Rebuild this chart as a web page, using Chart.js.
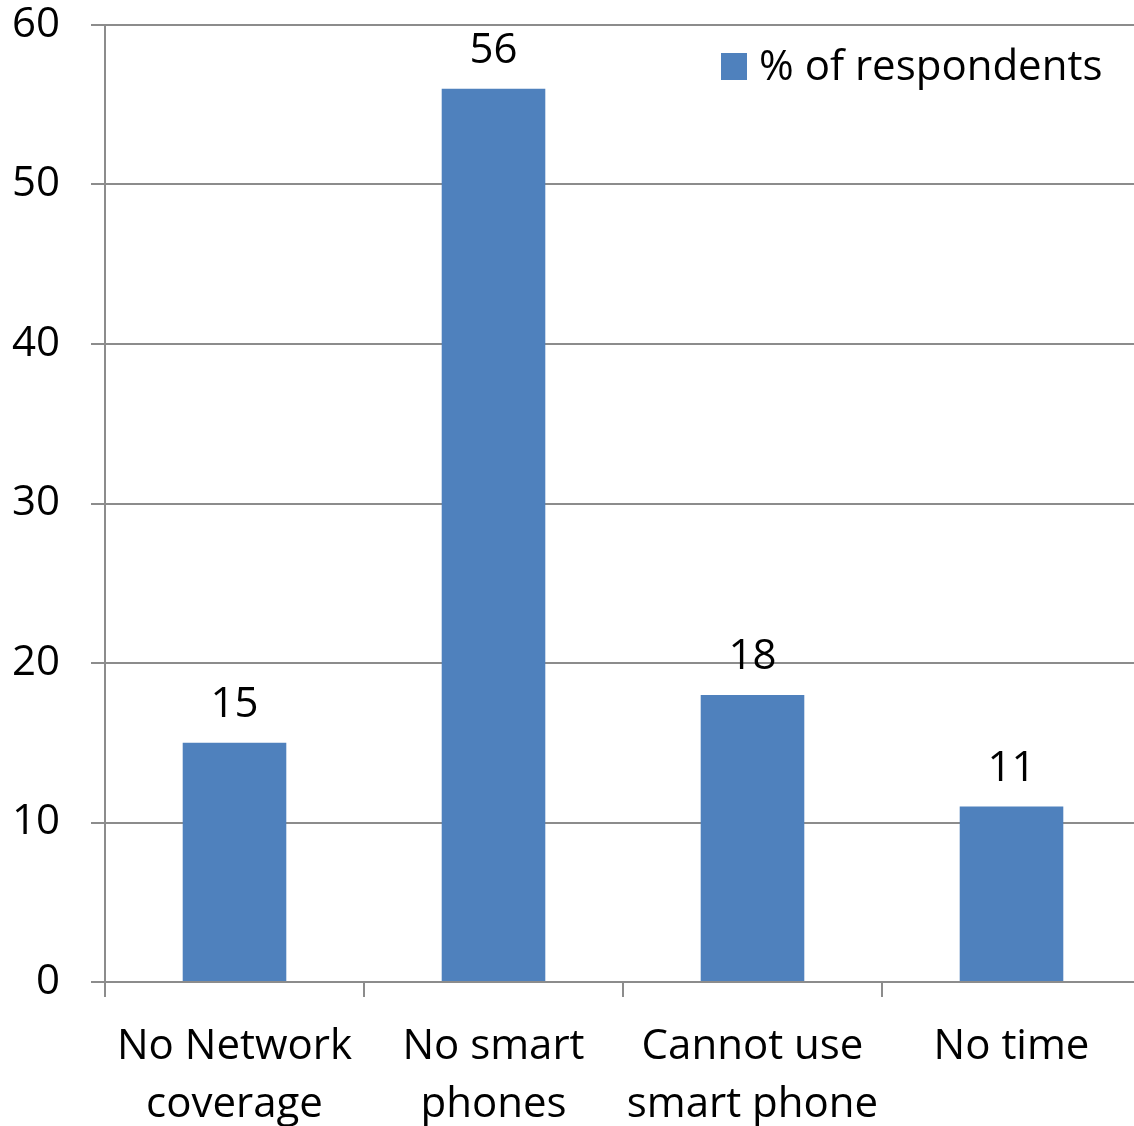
<!DOCTYPE html>
<html>
<head>
<meta charset="utf-8">
<script src="https://cdn.jsdelivr.net/npm/chart.js@4"></script>
<style>
  html, body { margin: 0; padding: 0; background: #fff; overflow: hidden; }
  canvas { display: block; }
</style>
</head>
<body>
<canvas id="c" width="1142" height="1126"></canvas>
<script>
// Reasons respondents gave, with share of respondents (%)
const categories = [
  ["No Network", "coverage"],
  ["No smart", "phones"],
  ["Cannot use", "smart phone"],
  ["No time"]
];
const seriesLabel = "% of respondents";
const respondents = [15, 56, 18, 11];
const yTicks = [0, 10, 20, 30, 40, 50, 60];

const FONT = "'Open Sans', 'DejaVu Sans', sans-serif";
const FONT_SIZE = 42;
const BAR = "#4F81BD";
const GRID = "#8c8c8c";

// value labels above each bar
const valueLabels = {
  id: "valueLabels",
  afterDatasetsDraw(chart) {
    const ctx = chart.ctx;
    ctx.save();
    ctx.font = FONT_SIZE + "px " + FONT;
    ctx.fillStyle = "#000";
    ctx.textAlign = "center";
    ctx.textBaseline = "alphabetic";
    chart.getDatasetMeta(0).data.forEach((bar, i) => {
      ctx.fillText(String(chart.data.datasets[0].data[i]), bar.x, bar.y - 26);
    });
    ctx.restore();
  }
};

// legend drawn inside the plot, top right
const insideLegend = {
  id: "insideLegend",
  afterDraw(chart) {
    const ctx = chart.ctx;
    const ds = chart.data.datasets[0];
    ctx.save();
    ctx.fillStyle = ds.backgroundColor;
    ctx.fillRect(721, 53, 26, 27);
    ctx.font = FONT_SIZE + "px " + FONT;
    ctx.fillStyle = "#000";
    ctx.textAlign = "left";
    ctx.textBaseline = "alphabetic";
    ctx.fillText(ds.label, 759, 80);
    ctx.restore();
  }
};

new Chart(document.getElementById("c"), {
  type: "bar",
  data: {
    labels: categories,
    datasets: [{
      label: seriesLabel,
      data: respondents,
      backgroundColor: BAR,
      borderWidth: 0,
      categoryPercentage: 0.8,
      barPercentage: 0.5
    }]
  },
  options: {
    responsive: false,
    animation: false,
    layout: { padding: { top: 25, right: 1, left: 0, bottom: 0 } },
    plugins: {
      legend: { display: false },
      tooltip: { enabled: false }
    },
    scales: {
      x: {
        grid: {
          offset: true,
          drawOnChartArea: false,
          drawTicks: true,
          tickLength: 15,
          color: GRID,
          lineWidth: 2
        },
        border: { color: GRID, width: 2 },
        ticks: {
          color: "#000",
          font: { family: FONT, size: FONT_SIZE, lineHeight: 1.38 },
          padding: 21,
          maxRotation: 0,
          autoSkip: false
        },
        afterFit(scale) {
          scale.height = 144;
          scale.paddingLeft = 0;
          scale.paddingRight = 0;
        }
      },
      y: {
        min: 0,
        max: 60,
        afterBuildTicks(scale) { scale.ticks = yTicks.map(v => ({ value: v })); },
        grid: {
          color: GRID,
          lineWidth: 2,
          tickLength: 14
        },
        border: { color: GRID, width: 2 },
        ticks: {
          color: "#000",
          font: { family: FONT, size: FONT_SIZE },
          padding: 31
        },
        afterFit(scale) {
          scale.width = 105;
          scale.paddingTop = 0;
          scale.paddingBottom = 0;
        }
      }
    }
  },
  plugins: [valueLabels, insideLegend]
});
</script>
</body>
</html>
